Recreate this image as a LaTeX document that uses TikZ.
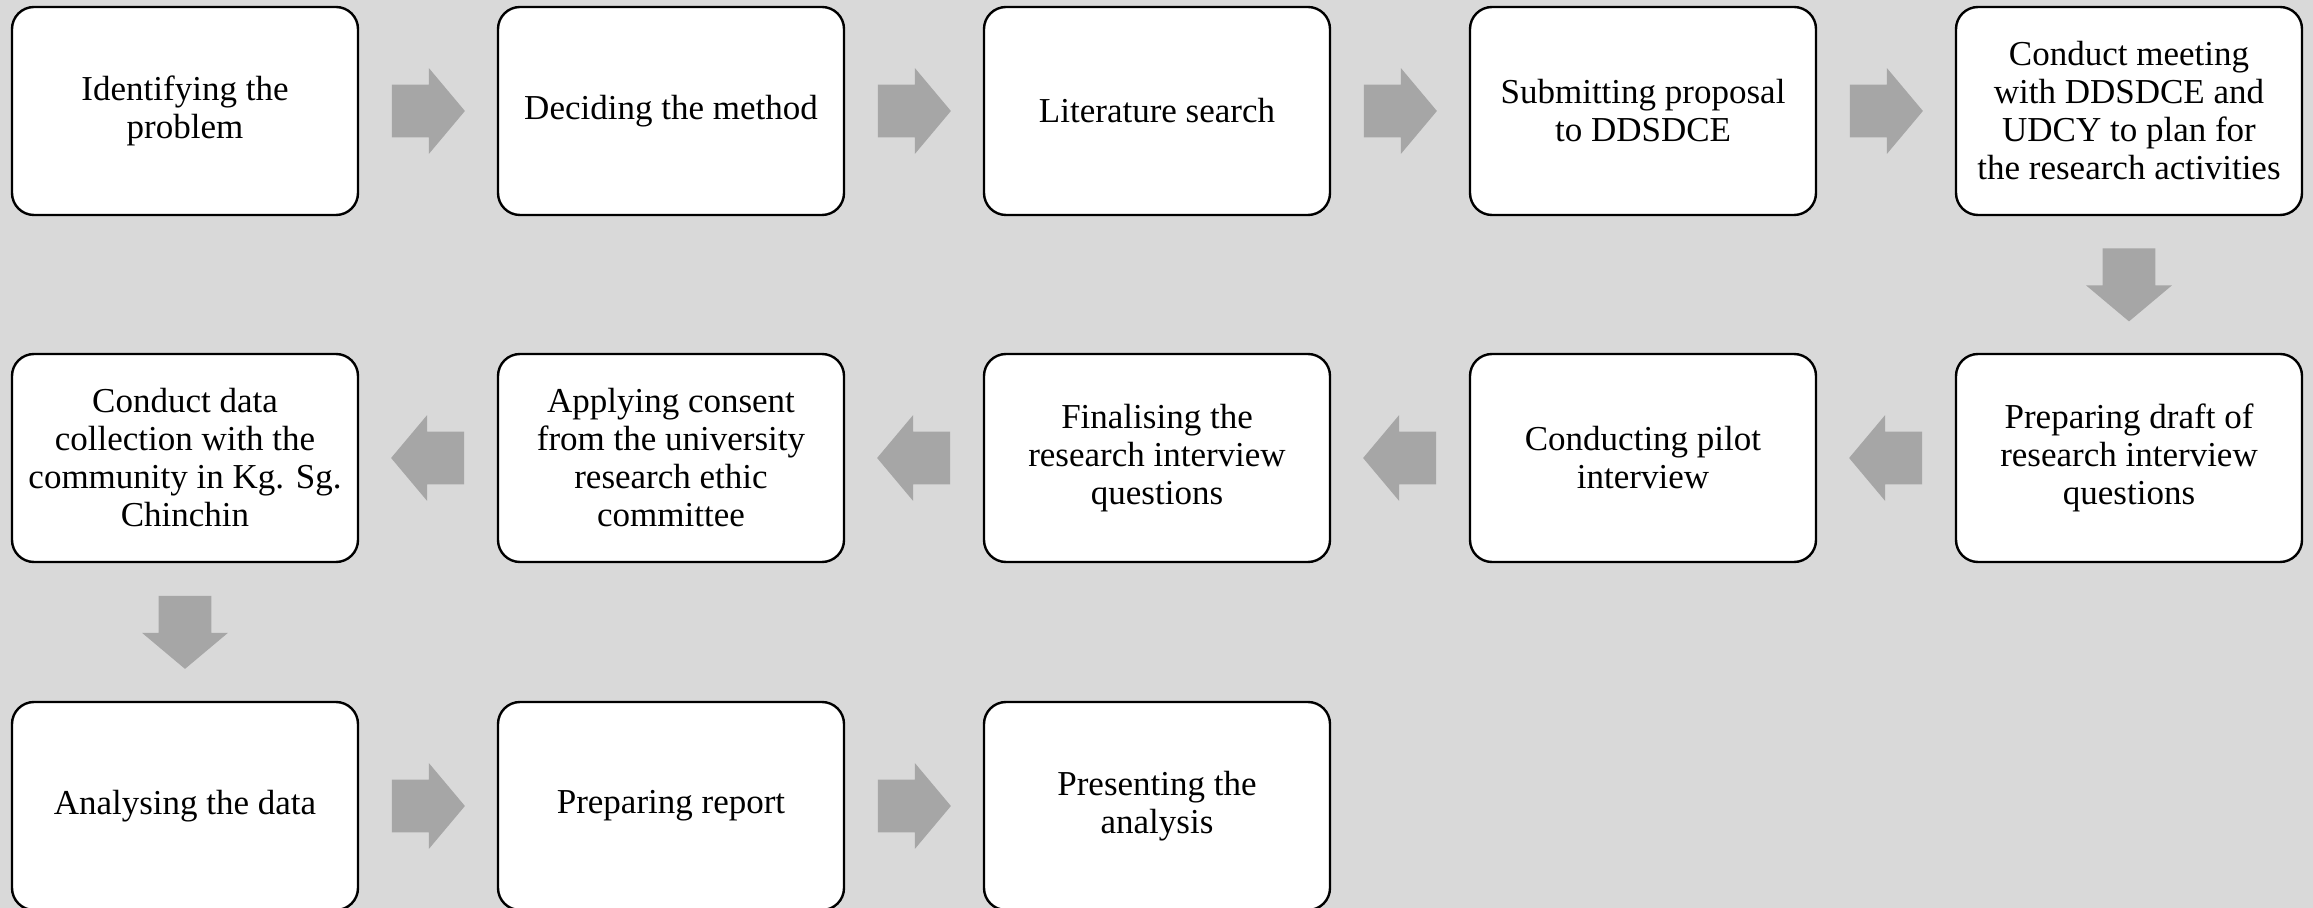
\documentclass[tikz,border=0pt]{standalone}
\usepackage{fontspec}
\setmainfont{Liberation Serif}
\usetikzlibrary{shapes.arrows,calc}
\definecolor{bgc}{HTML}{D9D9D9}
\definecolor{arrc}{HTML}{A6A6A6}
\begin{document}
\begin{tikzpicture}[x=0.5pt,y=-0.5pt,
 stepbox/.style={draw=black, line width=1.2pt, fill=white, rounded corners=11pt,
   minimum width=173pt, minimum height=104pt, align=center,
   font=\fontsize{17.5}{19}\selectfont, inner sep=0pt},
 blockarrow/.style={single arrow, fill=arrc, draw=none, minimum height=36.5pt,
   minimum width=0pt, inner xsep=0pt, inner ysep=13pt, anchor=tail,
   single arrow head extend=8.25pt, single arrow tip angle=100},
]
\fill[bgc] (0,0) rectangle (2313,908);
\useasboundingbox (0,0) rectangle (2313,908);
% row 1
\node[stepbox] (a1) at (185,111) {Identifying the\\problem};
\node[stepbox] (a2) at (671,111) {Deciding the method};
\node[stepbox] (a3) at (1157,111) {Literature search};
\node[stepbox] (a4) at (1643,111) {Submitting proposal\\to DDSDCE};
\node[stepbox] (a5) at (2129,111) {Conduct meeting\\with DDSDCE and\\UDCY to plan for\\the research activities};
% row 2
\node[stepbox] (b5) at (2129,458) {Preparing draft of\\research interview\\questions};
\node[stepbox] (b4) at (1643,458) {Conducting pilot\\interview};
\node[stepbox] (b3) at (1157,458) {Finalising the\\research interview\\questions};
\node[stepbox] (b2) at (671,458) {Applying consent\\from the university\\research ethic\\committee};
\node[stepbox] (b1) at (185,458) {Conduct data\\collection with the\\community in Kg. Sg.\\Chinchin};
% row 3
\node[stepbox] (c1) at (185,806) {Analysing the data};
\node[stepbox] (c2) at (671,806) {Preparing report};
\node[stepbox] (c3) at (1157,806) {Presenting the\\analysis};
% arrows
\node[blockarrow] (r1) at ($(a1.east)!0.5!(a2.west)!18.25pt!(a1.east)$) {};
\node[blockarrow] (r2) at ($(a2.east)!0.5!(a3.west)!18.25pt!(a2.east)$) {};
\node[blockarrow] (r3) at ($(a3.east)!0.5!(a4.west)!18.25pt!(a3.east)$) {};
\node[blockarrow] (r4) at ($(a4.east)!0.5!(a5.west)!18.25pt!(a4.east)$) {};
\node[blockarrow, rotate=-90] (d1) at ($(a5.south)!0.5!(b5.north)!18.25pt!(a5.south)$) {};
\node[blockarrow, rotate=180] (l1) at ($(b5.west)!0.5!(b4.east)!18.25pt!(b5.west)$) {};
\node[blockarrow, rotate=180] (l2) at ($(b4.west)!0.5!(b3.east)!18.25pt!(b4.west)$) {};
\node[blockarrow, rotate=180] (l3) at ($(b3.west)!0.5!(b2.east)!18.25pt!(b3.west)$) {};
\node[blockarrow, rotate=180] (l4) at ($(b2.west)!0.5!(b1.east)!18.25pt!(b2.west)$) {};
\node[blockarrow, rotate=-90] (d2) at ($(b1.south)!0.5!(c1.north)!18.25pt!(b1.south)$) {};
\node[blockarrow] (r5) at ($(c1.east)!0.5!(c2.west)!18.25pt!(c1.east)$) {};
\node[blockarrow] (r6) at ($(c2.east)!0.5!(c3.west)!18.25pt!(c2.east)$) {};
\end{tikzpicture}
\end{document}
